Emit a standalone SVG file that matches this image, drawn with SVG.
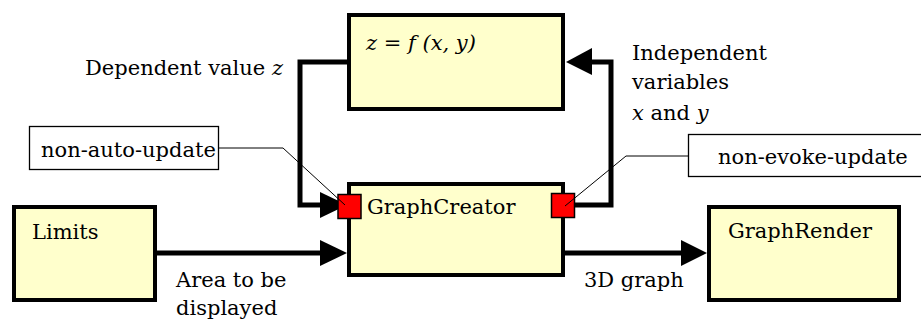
<svg xmlns="http://www.w3.org/2000/svg" width="921" height="320" viewBox="0 0 921 320">
<style>
.box{fill:#FFFFCC;stroke:#000;stroke-width:4}
.call{fill:#fff;stroke:#000;stroke-width:1.3}
.port{fill:#FF0000;stroke:#000;stroke-width:1.5}
.conn{fill:none;stroke:#000;stroke-width:5}
.head{fill:#000;stroke:none}
.lead{fill:none;stroke:#000;stroke-width:1}
</style>
<rect width="921" height="320" fill="#fff"/>
<g font-family="DejaVu Serif, serif" font-size="21" fill="#000">
<g id="func"><rect class="box" x="349" y="15" width="214" height="94"/><text x="366" y="50" font-style="italic">z = f (x, y)</text></g>
<g id="graphcreator"><rect class="box" x="349" y="184" width="214" height="91"/><text x="367" y="214">GraphCreator</text></g>
<g id="limits"><rect class="box" x="14" y="207" width="141" height="93"/><text x="32" y="239">Limits</text></g>
<g id="graphrender"><rect class="box" x="709" y="207" width="190" height="93"/><text x="728" y="238">GraphRender</text></g>
<g id="connectors">
<path class="conn" d="M349,62 H300 V205 H322"/>
<polygon class="head" points="320,192 347,205 320,218"/>
<path class="conn" d="M575,205 H611 V62 H590"/>
<polygon class="head" points="592,48 566,62 592,75"/>
<path class="conn" d="M157,253 H322"/>
<polygon class="head" points="320,240 347,253 320,266"/>
<path class="conn" d="M565,253 H683"/>
<polygon class="head" points="681,240 707,253 681,266"/>
</g>
<g id="port-left"><rect class="port" x="338" y="194.5" width="23" height="24"/></g>
<g id="port-right"><rect class="port" x="551.5" y="193.5" width="23" height="24"/></g>
<g id="callout-nonauto"><rect class="call" x="29.5" y="126.5" width="189" height="43"/><text x="41" y="157">non-auto-update</text><path class="lead" d="M219,148 H283 L345,205"/></g>
<g id="callout-nonevoke"><rect class="call" x="688.5" y="134.5" width="240" height="42"/><text x="718" y="164">non-evoke-update</text><path class="lead" d="M688,156 H626 L565,206"/></g>
<g id="labels">
<text x="85" y="75">Dependent value <tspan font-style="italic">z</tspan></text>
<text x="632" y="60">Independent</text>
<text x="632" y="89">variables</text>
<text x="632" y="120"><tspan font-style="italic">x</tspan> and <tspan font-style="italic">y</tspan></text>
<text x="176" y="287">Area to be</text>
<text x="176" y="315">displayed</text>
<text x="584" y="287">3D graph</text>
</g>
</g>
</svg>
